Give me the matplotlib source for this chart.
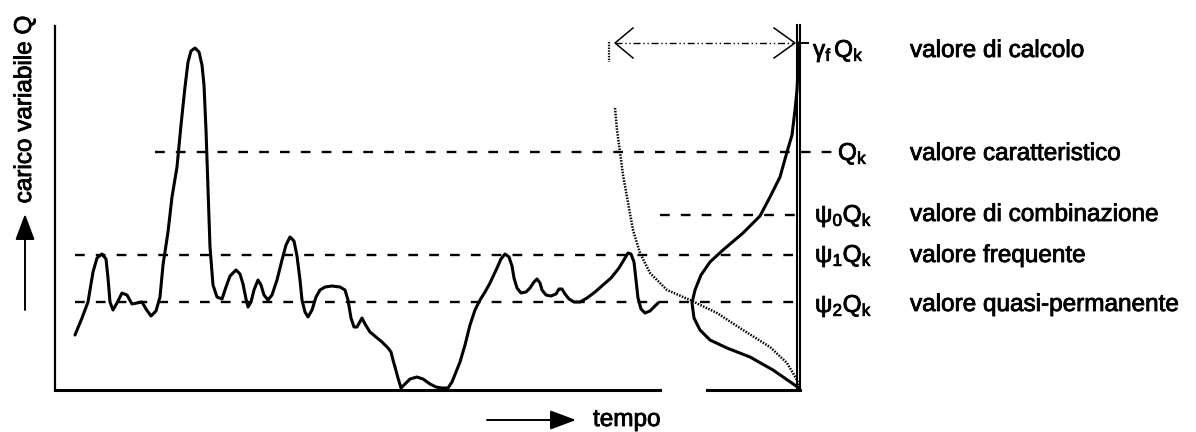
#
# Carico variabile Q nel tempo con i valori rappresentativi
# (schema alla Eurocodice: valore di calcolo, caratteristico, ecc.)
#
import numpy as np
import matplotlib.pyplot as plt
import matplotlib.patheffects as pe

plt.rcParams['font.family'] = ['Liberation Sans', 'DejaVu Sans']
plt.rcParams['mathtext.fontset'] = 'custom'
plt.rcParams['mathtext.rm'] = 'Liberation Sans'
plt.rcParams['mathtext.it'] = 'Liberation Sans'
plt.rcParams['mathtext.default'] = 'regular'
plt.rcParams['lines.scale_dashes'] = False

# Storia del carico (tempo, carico)
tempo = [75, 82, 88, 93, 97, 102, 106, 108, 110, 113, 117, 122, 127, 132, 137, 142, 146, 151,
         156, 160, 163, 168, 172, 177, 181, 185, 188, 191, 195, 199, 202, 204, 206, 208, 210,
         213, 217, 222, 226, 230, 236, 240, 243, 246, 248, 251, 254, 258, 261, 264, 268, 272,
         277, 282, 286, 290, 294, 297, 300, 302, 305, 308, 312, 316, 320, 325, 332, 340, 345,
         348, 351, 354, 357, 362, 365, 370, 376, 382, 388, 391, 393, 395, 398, 401, 405, 410,
         417, 423, 430, 436, 442, 448, 452, 456, 460, 465, 470, 475, 480, 485, 490, 497, 501,
         505, 509, 512, 514, 517, 521, 526, 530, 534, 537, 540, 542, 546, 551, 556, 559, 562,
         565, 569, 574, 580, 587, 595, 603, 611, 619, 625, 628, 631, 634, 636, 638, 641, 645,
         650, 654, 658]
carico = [55, 72, 88, 118, 132, 136, 131, 112, 88, 80, 87, 97, 95, 86, 87, 88, 81, 74,
          79, 93, 125, 158, 193, 223, 265, 303, 328, 339, 342, 338, 325, 305, 260, 200, 143,
          105, 93, 91, 103, 114, 120, 116, 106, 91, 83, 88, 100, 110, 105, 95, 90, 95,
          110, 130, 145, 153, 149, 134, 110, 90, 78, 73, 80, 93, 100, 103, 104, 103, 100,
          90, 72, 63, 63, 72, 66, 58, 53, 48, 42, 38, 30, 23, 12, 2, 6, 11,
          13, 11, 6, 3, 2, 2, 8, 18, 28, 45, 65, 80, 90, 98, 107, 122, 131,
          136, 133, 124, 112, 102, 97, 98, 102, 108, 111, 107, 100, 95, 94, 96, 101, 101,
          96, 91, 88, 88, 92, 98, 105, 112, 122, 132, 137, 136, 128, 110, 92, 81, 77,
          79, 83, 87]

# Densita' di probabilita' (curva a campana, ruotata)
dens_x = [799, 798, 797, 795, 792, 787, 780, 770, 760, 743, 723, 710, 701, 695, 692,
          694, 700, 710, 727, 750, 773, 799]
dens_q = [347, 320, 300, 280, 255, 238, 213, 193, 174, 157, 140, 128, 115, 100, 87,
          72, 60, 50, 42, 33, 20, 2]

# Curva punteggiata (probabilita' di superamento)
cum_x = [615, 617, 620, 623, 627, 633, 640, 650, 667, 690, 717, 743, 770, 787, 797, 800]
cum_q = [282, 260, 238, 215, 193, 160, 137, 117, 100, 90, 77, 60, 43, 27, 10, 2]

# Livelli dei valori rappresentativi
livelli = [238, 175, 135, 88]          # Qk, psi0 Qk, psi1 Qk, psi2 Qk
liv_da = [155, 660, 75, 75]
liv_a = [832, 797, 797, 797]
q_calcolo = 347                        # gamma_f Qk

simboli = [r'$\gamma_f\,Q_k$', r'$Q_k$', r'$\psi_0 Q_k$', r'$\psi_1 Q_k$', r'$\psi_2 Q_k$']
simb_x = [813, 838, 815, 815, 815]
simb_q = [333, 230, 168, 128, 78]
nomi = ['valore di calcolo', 'valore caratteristico', 'valore di combinazione',
        'valore frequente', 'valore quasi-permanente']
nomi_q = [333, 230, 169, 128, 79]

fig = plt.figure(figsize=(11.96, 4.32), dpi=100)
ax = fig.add_axes([0, 0, 1, 1])
ax.set_xlim(0, 1196)
ax.set_ylim(-42, 390)
ax.axis('off')

fs = 17.5
grassetto = [pe.withStroke(linewidth=0.6, foreground='k')]

# Assi
ax.plot([55, 55], [0, 364], 'k-', lw=1.6)
ax.plot([55, 660], [0, 0], 'k-', lw=2.2)
ax.plot([707, 800], [0, 0], 'k-', lw=2.2)
ax.plot([797, 797], [0, 365], 'k-', lw=1.5)
ax.plot([799.5, 799.5], [0, 365], 'k-', lw=1.5)

# Linee dei livelli
for q, x0, x1 in zip(livelli, liv_da, liv_a):
    ax.plot([x0, x1], [q, q], color='k', lw=1.7, dashes=(7, 8))

# Storia del carico
ax.plot(tempo, carico, 'k-', lw=2.2, solid_joinstyle='round', solid_capstyle='round')

# Curve di probabilita'
ax.plot(dens_x, dens_q, 'k-', lw=2.2, solid_joinstyle='round')
ax.plot(cum_x, cum_q, 'k', lw=1.8, dashes=(1.1, 1.0))

# Freccia valore di calcolo
ax.plot([615, 797], [q_calcolo, q_calcolo], 'k', lw=1, dashes=(5, 2, 1, 2, 1, 2))
ax.plot([633, 615, 633], [q_calcolo + 15, q_calcolo, q_calcolo - 15], 'k-', lw=1.1)
ax.plot([774, 795, 774], [q_calcolo + 15, q_calcolo, q_calcolo - 15], 'k-', lw=1.1)
ax.plot([797, 808], [q_calcolo, q_calcolo], 'k-', lw=1.4)
ax.plot([609, 609], [q_calcolo + 1, q_calcolo - 19], 'k', lw=1.6, dashes=(1, 1))

# Testi
for s, x, q in zip(simboli, simb_x, simb_q):
    ax.text(x, q, s, fontsize=fs, ha='left', va='baseline', path_effects=grassetto)
for s, q in zip(nomi, nomi_q):
    ax.text(910, q, s, fontsize=fs, ha='left', va='baseline', path_effects=grassetto)

ax.text(25, 280, 'carico variabile Q', fontsize=fs, rotation=90, ha='center', va='center',
        path_effects=grassetto)
freccia = dict(arrowstyle='-|>,head_length=0.8,head_width=0.3', color='k', lw=1.4,
               mutation_scale=20, shrinkA=0, shrinkB=0)
ax.annotate('', xy=(25, 176), xytext=(25, 80), arrowprops=freccia)
ax.annotate('', xy=(576, -30), xytext=(487, -30), arrowprops=freccia)
ax.text(593, -36, 'tempo', fontsize=fs, ha='left', va='baseline', path_effects=grassetto)

plt.savefig('out.png')
plt.close()
